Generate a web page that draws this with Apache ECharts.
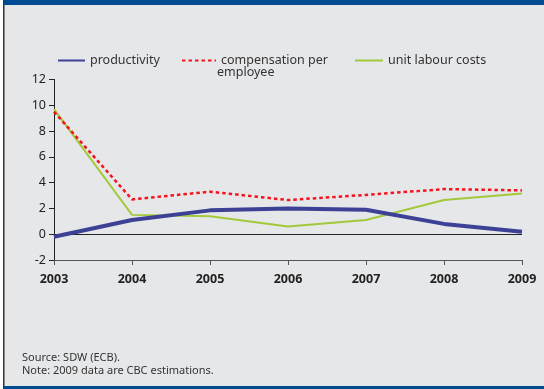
<!DOCTYPE html>
<html><head><meta charset="utf-8">
<script src="https://cdn.jsdelivr.net/npm/echarts@6/dist/echarts.min.js"></script>
<style>html,body{margin:0;padding:0;background:#fff}#c{width:544px;height:389px}</style>
</head><body><div id="c"></div>
<script>
var years = ['2003','2004','2005','2006','2007','2008','2009'];
var productivity = [-0.2, 1.1, 1.85, 2.0, 1.9, 0.8, 0.2];
var compensation = [9.5, 2.7, 3.3, 2.65, 3.05, 3.5, 3.4];
var unitLabourCosts = [9.7, 1.5, 1.4, 0.6, 1.1, 2.65, 3.15];
var yTicks = [-2, 0, 2, 4, 6, 8, 10, 12];
var FONT = 'Noto Sans';
var legendItem = {opacity:0};
var chart = echarts.init(document.getElementById('c'));
chart.setOption({
  backgroundColor: '#fff',
  animation: false,
  graphic: [
    {type:'rect', shape:{x:4,y:0,width:540,height:389}, style:{fill:'#e6e7e9'}, z:-10},
    {type:'rect', shape:{x:3,y:0,width:1.5,height:389}, style:{fill:'#333'}, z:-9},
    {type:'rect', shape:{x:4,y:0,width:540,height:5}, style:{fill:'#004b91'}, z:-9},
    {type:'rect', shape:{x:4,y:386,width:540,height:3}, style:{fill:'#004b91'}, z:-9},
    {type:'text', left:217, top:66, style:{text:'employee', font:'12.5px "'+FONT+'"', fill:'#333'}},
    {type:'text', left:22, top:351, style:{text:'Source: SDW (ECB).\nNote: 2009 data are CBC estimations.', font:'11px "'+FONT+'"', fill:'#333', lineHeight:13}}
  ],
  legend: [
    {data:['productivity'], left:52, top:49, itemWidth:27, itemHeight:12, itemStyle:legendItem, textStyle:{fontFamily:FONT, fontSize:12.5, color:'#333'}},
    {data:['compensation per employee'], left:176, top:49, itemWidth:34, itemHeight:12, itemStyle:legendItem, formatter:function(){return 'compensation per';}, textStyle:{fontFamily:FONT, fontSize:12.5, color:'#333'}},
    {data:['unit labour costs'], left:349, top:49, itemWidth:28, itemHeight:12, itemStyle:legendItem, textStyle:{fontFamily:FONT, fontSize:12.5, color:'#333'}}
  ],
  grid: {left:54, right:22, top:79.5, bottom:129, containLabel:false},
  xAxis: {
    type:'category', data:years, boundaryGap:false,
    axisLine:{onZero:false, lineStyle:{color:'#555', width:1}},
    axisTick:{show:true, length:5, lineStyle:{color:'#555'}},
    axisLabel:{fontFamily:FONT, fontSize:12.5, fontWeight:'bold', color:'#222', margin:13},
    splitLine:{show:false}
  },
  yAxis: {
    type:'value', min:-2, max:12, interval:2,
    axisLine:{show:true, lineStyle:{color:'#222', width:1}},
    axisTick:{show:true, length:5, lineStyle:{color:'#222'}},
    axisLabel:{fontFamily:FONT, fontSize:12.5, color:'#222', margin:8},
    splitLine:{show:false}
  },
  series: [
    {name:'productivity', type:'line', data:productivity, showSymbol:false, symbol:'none', z:4,
      lineStyle:{color:'#3d4196', width:4}, itemStyle:{color:'#3d4196'},
      markLine:{silent:true, symbol:'none', label:{show:false}, lineStyle:{color:'#222', width:1, type:'solid'}, data:[{yAxis:0}], z:1}},
    {name:'compensation per employee', type:'line', data:compensation, showSymbol:false, symbol:'none', z:3,
      lineStyle:{color:'#f5141e', width:2.5, type:[3.5,3]}, itemStyle:{color:'#f5141e'}},
    {name:'unit labour costs', type:'line', data:unitLabourCosts, showSymbol:false, symbol:'none', z:2,
      lineStyle:{color:'#a3c93a', width:2}, itemStyle:{color:'#a3c93a'}}
  ]
});
</script></body></html>
